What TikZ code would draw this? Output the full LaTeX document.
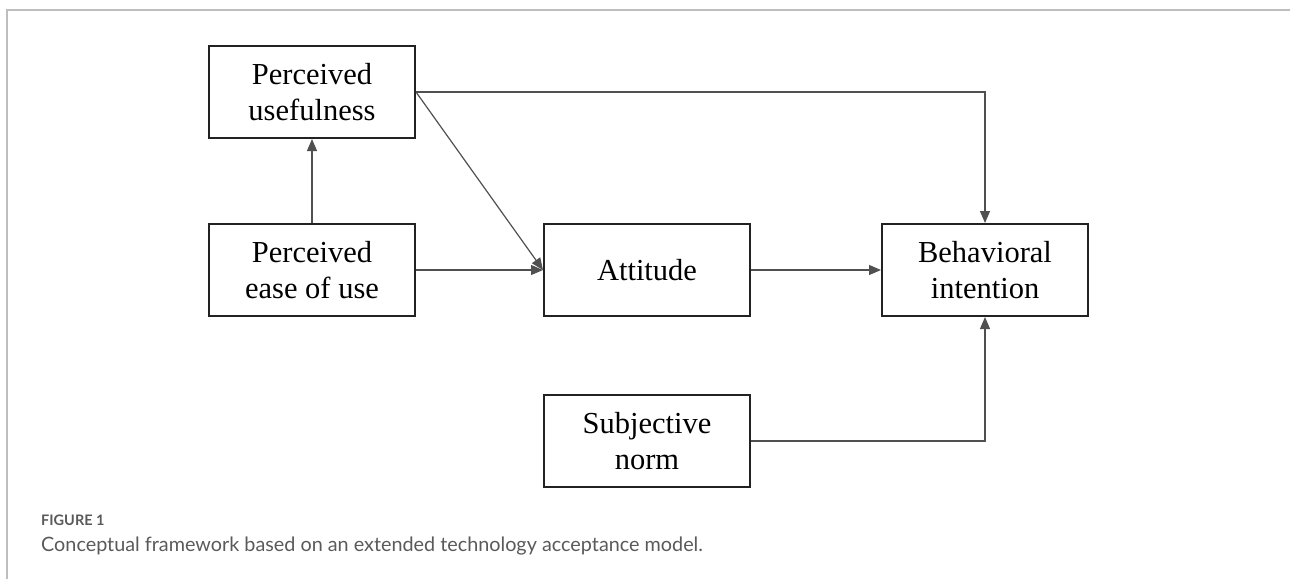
\documentclass[tikz,border=0pt]{standalone}
\usepackage{fontspec}
\setmainfont{Liberation Serif}
\newfontfamily\captionfont{Lato}
\usepackage{tikz}
\usetikzlibrary{positioning, arrows.meta}
\definecolor{boxLine}{RGB}{34, 34, 34}
\definecolor{edgeLine}{RGB}{80, 80, 80}
\definecolor{frameLine}{RGB}{190, 190, 190}
\definecolor{captionText}{RGB}{90, 90, 90}
\tikzset{
    tam_box/.style={
        draw=boxLine,
        line width=2pt,
        minimum width=206pt,
        minimum height=92pt,
        align=center,
        inner sep=0pt,
        font=\fontsize{30.5}{36}\selectfont
    },
    tam_edge/.style={
        -{Triangle[length=12pt,width=10pt]},
        line width=1.2pt,
        draw=edgeLine
    },
    cap_text/.style={
        anchor=west,
        inner sep=0pt,
        text=captionText
    }
}
\begin{document}
\begin{tikzpicture}[x=1pt, y=-1pt]
    \useasboundingbox (0,0) rectangle (1290,579);
    \draw[frameLine, line width=1.2pt] (7,579) -- (7,10) -- (1290,10);

    \node[tam_box] (peu) at (312,270) {Perceived\\ease of use};
    \node[tam_box, above=84pt of peu] (pu) {Perceived\\usefulness};
    \node[tam_box, right=127pt of peu] (att) {Attitude};
    \node[tam_box, right=130pt of att] (bi) {Behavioral\\intention};
    \node[tam_box, below=77pt of att] (sn) {Subjective\\norm};

    \draw[tam_edge] (peu) -- (pu);
    \draw[tam_edge] (peu) -- (att);
    \draw[tam_edge] (pu.east) -- (att.west);
    \draw[tam_edge] (pu.east) -| (bi.north);
    \draw[tam_edge] (att) -- (bi);
    \draw[tam_edge] (sn.east) -| (bi.south);

    \node[cap_text, font=\captionfont\bfseries\fontsize{14.5}{16}\selectfont] (fig) at (41,520) {FIGURE 1};
    \node[cap_text, font=\captionfont\fontsize{19.8}{22}\selectfont] (cap) at (41,546) {Conceptual framework based on an extended technology acceptance model.};
\end{tikzpicture}
\end{document}
